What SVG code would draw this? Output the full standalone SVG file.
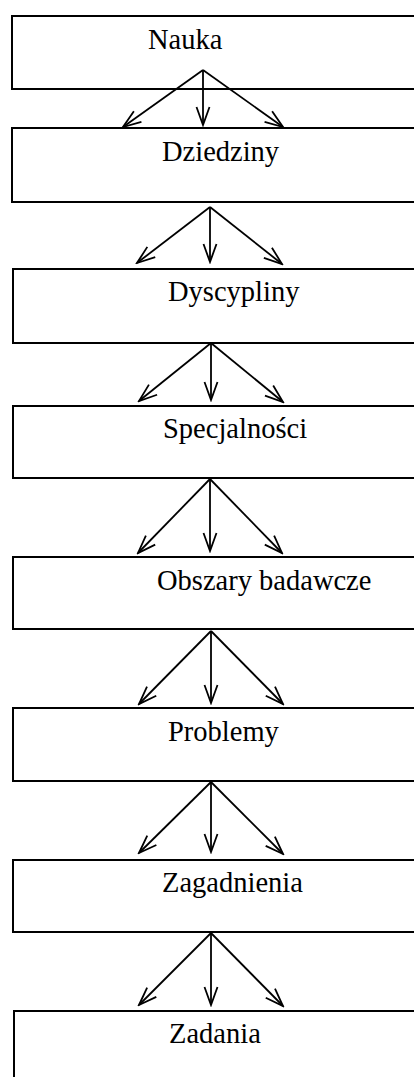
<svg xmlns="http://www.w3.org/2000/svg" width="414" height="1077" viewBox="0 0 414 1077">
<style>
.box{fill:#fff;stroke:#000;stroke-width:2}
.lbl{font-family:"Liberation Serif","Times New Roman",serif;font-size:28.5px;fill:#000}
.c{stroke:#000;stroke-width:1.8;fill:none;marker-end:url(#ah)}
</style>
<defs>
<marker id="ah" markerUnits="userSpaceOnUse" markerWidth="22" markerHeight="16" refX="20" refY="8" orient="auto" viewBox="0 0 22 16">
<path d="M2,1.5 L20,8 L2,14.5" fill="none" stroke="#000" stroke-width="1.8"/>
</marker>
</defs>
<g id="n1"><rect class="box" x="12" y="16" width="410" height="73"/><text class="lbl" x="148" y="49">Nauka</text></g>
<g id="n2"><rect class="box" x="12" y="128" width="410" height="74"/><text class="lbl" x="162" y="161">Dziedziny</text></g>
<g id="n3"><rect class="box" x="13" y="269" width="410" height="74"/><text class="lbl" x="168" y="301">Dyscypliny</text></g>
<g id="n4"><rect class="box" x="13" y="406" width="410" height="72"/><text class="lbl" x="163" y="438">Specjalności</text></g>
<g id="n5"><rect class="box" x="13" y="557" width="410" height="72"/><text class="lbl" x="157" y="590">Obszary badawcze</text></g>
<g id="n6"><rect class="box" x="13" y="708" width="410" height="73"/><text class="lbl" x="168" y="741">Problemy</text></g>
<g id="n7"><rect class="box" x="13" y="860" width="410" height="72"/><text class="lbl" x="162" y="892">Zagadnienia</text></g>
<g id="n8"><rect class="box" x="14" y="1011" width="410" height="80"/><text class="lbl" x="169" y="1043">Zadania</text></g>
<g id="connectors">
<line class="c" x1="203" y1="70" x2="123" y2="127"/>
<line class="c" x1="203" y1="70" x2="203" y2="125"/>
<line class="c" x1="203" y1="70" x2="283" y2="127"/>
<line class="c" x1="210" y1="207" x2="137" y2="263"/>
<line class="c" x1="210" y1="207" x2="210" y2="262"/>
<line class="c" x1="210" y1="207" x2="282" y2="264"/>
<line class="c" x1="211" y1="343" x2="139" y2="401"/>
<line class="c" x1="211" y1="343" x2="211" y2="400"/>
<line class="c" x1="211" y1="343" x2="283" y2="402"/>
<line class="c" x1="210" y1="479" x2="138" y2="553"/>
<line class="c" x1="210" y1="479" x2="210" y2="551"/>
<line class="c" x1="210" y1="479" x2="282" y2="553"/>
<line class="c" x1="211" y1="631" x2="139" y2="704"/>
<line class="c" x1="211" y1="631" x2="211" y2="703"/>
<line class="c" x1="211" y1="631" x2="283" y2="704"/>
<line class="c" x1="211" y1="782" x2="139" y2="853"/>
<line class="c" x1="211" y1="782" x2="211" y2="852"/>
<line class="c" x1="211" y1="782" x2="283" y2="854"/>
<line class="c" x1="211" y1="933" x2="139" y2="1005"/>
<line class="c" x1="211" y1="933" x2="211" y2="1005"/>
<line class="c" x1="211" y1="933" x2="283" y2="1006"/>
</g>
</svg>
